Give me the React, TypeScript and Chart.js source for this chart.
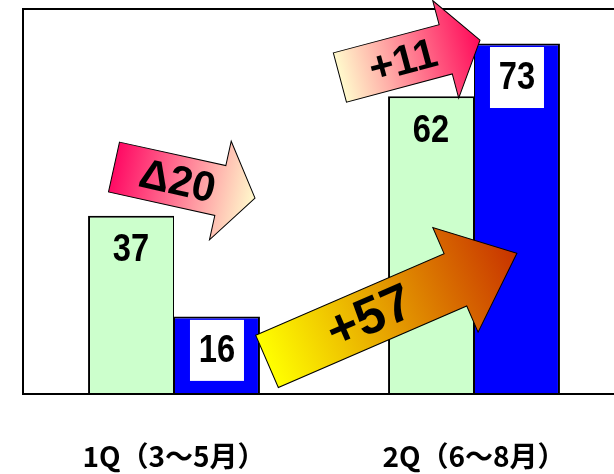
import { useEffect, useRef } from "react";
import { Chart, registerables } from "chart.js";

Chart.register(...registerables);

// Quarter categories and the two series compared in each quarter
const categories = ["1Q（3～5月）", "2Q（6～8月）"];
const series1 = [37, 62];
const series2 = [16, 73];
const valueMax = 80;

// Change arrows, anchored in (category position, value) units of the chart scales
const changeArrows = [
  {
    text: "Δ20",
    from: [-0.2, 47.2],
    to: [0.27, 40.7],
    shaftHalf: 25.5,
    headHalf: 50.5,
    headLen: 35.5,
    colors: ["#FF0A64", "#FFFACC"],
    font: "bold 42px 'Liberation Sans'",
    textAt: 0.45,
  },
  {
    text: "+11",
    from: [0.553, 65.9],
    to: [1.02, 73.7],
    shaftHalf: 25.5,
    headHalf: 50.5,
    headLen: 35.5,
    colors: ["#FFFACC", "#FF0A5A"],
    font: "bold 42px 'Liberation Sans'",
    textAt: 0.45,
  },
  {
    text: "+57",
    from: [0.31, 6.6],
    to: [1.143, 29.2],
    shaftHalf: 28.5,
    headHalf: 57,
    headLen: 67,
    colors: ["#FFFF00", "#C83200"],
    font: "bold 52px 'Liberation Sans'",
    textAt: 0.41,
  },
];

const framePlugin = {
  id: "frame",
  beforeDatasetsDraw(chart: any) {
    const { ctx, chartArea } = chart;
    ctx.save();
    ctx.strokeStyle = "#000";
    ctx.lineWidth = 2;
    ctx.strokeRect(chartArea.left - 1, chartArea.top - 1, chartArea.right + 20 - chartArea.left, chartArea.bottom - chartArea.top + 2);
    ctx.restore();
  },
};

const valueLabelPlugin = {
  id: "valueLabels",
  afterDatasetsDraw(chart: any) {
    const { ctx } = chart;
    chart.data.datasets.forEach((ds: any, di: number) => {
      const meta = chart.getDatasetMeta(di);
      meta.data.forEach((bar: any, i: number) => {
        const cx = bar.x;
        const cy = bar.y + 34;
        ctx.save();
        if (di === 1) {
          ctx.fillStyle = "#FFFFFF";
          ctx.fillRect(cx - 27, cy - 30.5, 54, 61);
        }
        // condensed bold digits
        ctx.translate(cx, cy + 1);
        ctx.scale(0.86, 1);
        ctx.font = "bold 38px 'Liberation Sans'";
        ctx.textAlign = "center";
        ctx.textBaseline = "middle";
        ctx.fillStyle = "#000";
        ctx.fillText(String(ds.data[i]), 0, 0);
        ctx.restore();
      });
    });
  },
};

const arrowPlugin = {
  id: "changeArrows",
  afterDraw(chart: any) {
    const { ctx } = chart;
    const xs = chart.scales.x;
    const ys = chart.scales.y;
    changeArrows.forEach((a) => {
      const x0 = xs.getPixelForValue(a.from[0]);
      const y0 = ys.getPixelForValue(a.from[1]);
      const x1 = xs.getPixelForValue(a.to[0]);
      const y1 = ys.getPixelForValue(a.to[1]);
      const len = Math.hypot(x1 - x0, y1 - y0);
      const neck = len - a.headLen;
      ctx.save();
      ctx.translate(x0, y0);
      ctx.rotate(Math.atan2(y1 - y0, x1 - x0));
      ctx.beginPath();
      ctx.moveTo(0, -a.shaftHalf);
      ctx.lineTo(neck, -a.shaftHalf);
      ctx.lineTo(neck, -a.headHalf);
      ctx.lineTo(len, 0);
      ctx.lineTo(neck, a.headHalf);
      ctx.lineTo(neck, a.shaftHalf);
      ctx.lineTo(0, a.shaftHalf);
      ctx.closePath();
      const g = ctx.createLinearGradient(0, 0, len, 0);
      g.addColorStop(0, a.colors[0]);
      g.addColorStop(1, a.colors[1]);
      ctx.fillStyle = g;
      ctx.fill();
      ctx.lineWidth = 1;
      ctx.strokeStyle = "#000";
      ctx.stroke();
      ctx.fillStyle = "#000";
      ctx.font = a.font;
      ctx.textAlign = "center";
      ctx.textBaseline = "middle";
      ctx.fillText(a.text, len * a.textAt, 2);
      ctx.restore();
    });
  },
};

export default function App() {
  const canvasRef = useRef<HTMLCanvasElement | null>(null);

  useEffect(() => {
    if (!canvasRef.current) return;
    const chart = new Chart(canvasRef.current, {
      type: "bar",
      data: {
        labels: categories,
        datasets: [
          {
            label: "系列1",
            data: series1,
            backgroundColor: "#CCFFCC",
            borderColor: "#000000",
            borderWidth: { top: 2, left: 2, right: 1, bottom: 0 },
            barPercentage: 1,
            categoryPercentage: 0.573,
          },
          {
            label: "系列2",
            data: series2,
            backgroundColor: "#0000FF",
            borderColor: "#000000",
            borderWidth: { top: 2, left: 1, right: 2, bottom: 0 },
            barPercentage: 1,
            categoryPercentage: 0.573,
          },
        ],
      },
      options: {
        responsive: false,
        animation: false,
        layout: { padding: { left: 24, top: 10, right: 0, bottom: 0 } },
        plugins: {
          legend: { display: false },
          tooltip: { enabled: false },
        },
        scales: {
          x: {
            grid: { display: false, drawTicks: false },
            border: { display: false },
            ticks: {
              color: "#000",
              padding: 47,
              font: { family: "'Noto Sans CJK JP'", size: 28, weight: "bold" },
            },
            afterFit: (scale: any) => {
              scale.height = 81;
            },
          },
          y: { display: false, min: 0, max: valueMax },
        },
      },
      plugins: [framePlugin, valueLabelPlugin, arrowPlugin],
    });
    return () => chart.destroy();
  }, []);

  return (
    <div
      style={{
        position: "fixed",
        left: 0,
        top: 0,
        width: 614,
        height: 474,
        overflow: "hidden",
        background: "#fff",
      }}
    >
      <canvas ref={canvasRef} width={624} height={474} style={{ display: "block", width: 624, height: 474 }} />
    </div>
  );
}
